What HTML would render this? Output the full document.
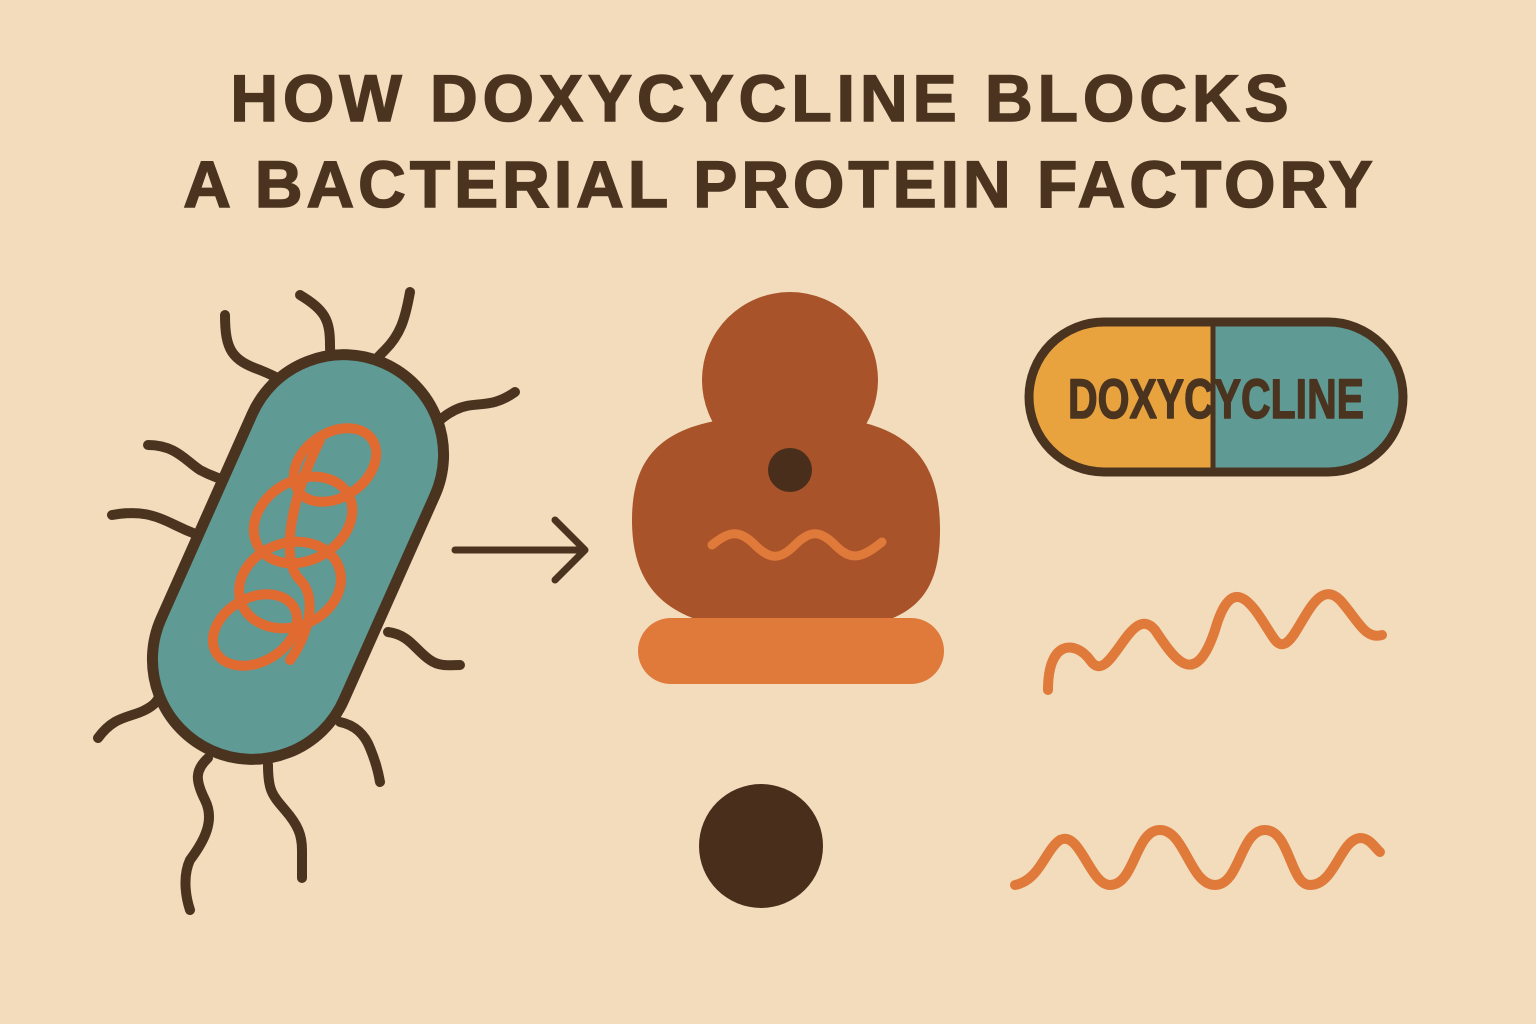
<!DOCTYPE html>
<html><head><meta charset="utf-8"><style>
html,body{margin:0;padding:0}
body{width:1536px;height:1024px;background:#f2dcbc;overflow:hidden;position:relative;font-family:"Liberation Sans",sans-serif}
.t{position:absolute;left:0;width:1536px;text-align:center;color:#4a3420;font-weight:bold;font-size:66px;letter-spacing:5px;white-space:nowrap;-webkit-text-stroke:1.5px #4a3420}
</style></head><body>
<div class="t" style="top:60px;left:-6px">HOW DOXYCYCLINE BLOCKS</div>
<div class="t" style="top:146px;left:12px;letter-spacing:4px">A BACTERIAL PROTEIN FACTORY</div>
<svg width="1536" height="1024" style="position:absolute;left:0;top:0" fill="none" stroke-linecap="round" stroke-linejoin="round">
<g stroke="#4a3420" stroke-width="10">
<path d="M225 315 C225 350 232 360 260 370 C280 378 290 385 305 395"/>
<path d="M300 295 C325 310 330 320 330 345 C330 360 333 365 335 372"/>
<path d="M410 292 C405 320 400 335 385 350 C375 360 370 365 370 372"/>
<path d="M515 392 C490 410 475 400 455 410 C445 415 440 420 435 425"/>
<path d="M148 445 C175 445 185 460 200 470 C215 478 225 480 240 485"/>
<path d="M112 515 C140 510 155 515 175 525 C185 530 190 532 198 535"/>
<path d="M388 632 C410 635 415 650 430 660 C440 667 450 665 460 665"/>
<path d="M98 738 C115 715 130 718 145 710 C155 705 158 700 160 695"/>
<path d="M208 758 C195 770 195 780 205 800 C215 820 205 840 190 860 C183 875 185 895 190 910"/>
<path d="M268 765 C268 790 272 795 285 810 C298 825 302 835 302 850 C302 860 302 870 302 878"/>
<path d="M340 722 C355 725 365 735 370 748 C375 760 378 770 380 782"/>
</g>
<g transform="rotate(24 298 557)">
<rect x="198" y="345" width="200" height="424" rx="100" fill="#5f9a94" stroke="#4a3420" stroke-width="11"/>
</g>
<g stroke="#e06a30" stroke-width="10">
<ellipse cx="335" cy="465" rx="45" ry="32" transform="rotate(-35 335 465)"/>
<ellipse cx="303" cy="520" rx="52" ry="40" transform="rotate(-30 303 520)"/>
<ellipse cx="290" cy="585" rx="52" ry="42" transform="rotate(-20 290 585)"/>
<ellipse cx="255" cy="630" rx="45" ry="32" transform="rotate(-30 255 630)"/>
<path d="M320 440 C290 500 280 560 300 580 C320 600 305 640 290 660"/>
</g>
<g stroke="#4a3420" stroke-width="7"><path d="M455 550 L583 550 M555 520 L585 550 L555 580"/></g>
<circle cx="790" cy="380" r="88" fill="#a8532a"/>
<path d="M632 520 C632 440 680 415 790 415 C900 415 940 450 940 530 C940 610 900 632 790 632 C680 632 632 600 632 520Z" fill="#a8532a"/>
<circle cx="790" cy="470" r="22" fill="#4a2e1c"/>
<path d="M712 545 C730 530 740 530 755 545 C770 560 780 560 795 545 C810 530 820 530 835 545 C850 560 860 560 882 542" stroke="#e07a3a" stroke-width="9"/>
<rect x="638" y="618" width="306" height="66" rx="33" fill="#e07a3a"/>
<circle cx="761" cy="846" r="62" fill="#4a2e1c"/>
<path d="M1048 690 C1048 640 1075 640 1090 660 C1110 690 1130 600 1155 630 C1175 660 1195 690 1215 630 C1235 560 1260 620 1275 640 C1295 665 1310 570 1340 600 C1358 620 1365 640 1382 635" stroke="#e07a3a" stroke-width="10"/>
<path d="M1015 885 C1040 880 1045 850 1060 840 C1080 830 1090 885 1110 885 C1135 885 1135 830 1160 830 C1185 830 1190 885 1215 885 C1240 885 1240 830 1265 830 C1290 830 1290 885 1310 885 C1335 885 1340 840 1360 838 C1370 838 1375 848 1380 852" stroke="#e07a3a" stroke-width="10"/>
<path d="M1104 322 L1213 322 L1213 472 L1104 472 A75 75 0 0 1 1104 322Z" fill="#e8a33e"/>
<path d="M1213 322 L1328 322 A75 75 0 0 1 1328 472 L1213 472Z" fill="#5f9a94"/>
<rect x="1029" y="322" width="374" height="150" rx="75" stroke="#4a3420" stroke-width="9"/>
<line x1="1213" y1="322" x2="1213" y2="472" stroke="#4a3420" stroke-width="5"/>
<text x="1216" y="418" text-anchor="middle" font-family="Liberation Sans Narrow, Liberation Sans, sans-serif" font-weight="bold" font-size="56" fill="#4a3420" stroke="#4a3420" stroke-width="1.5" textLength="296" lengthAdjust="spacingAndGlyphs">DOXYCYCLINE</text>
</svg>
</body></html>
